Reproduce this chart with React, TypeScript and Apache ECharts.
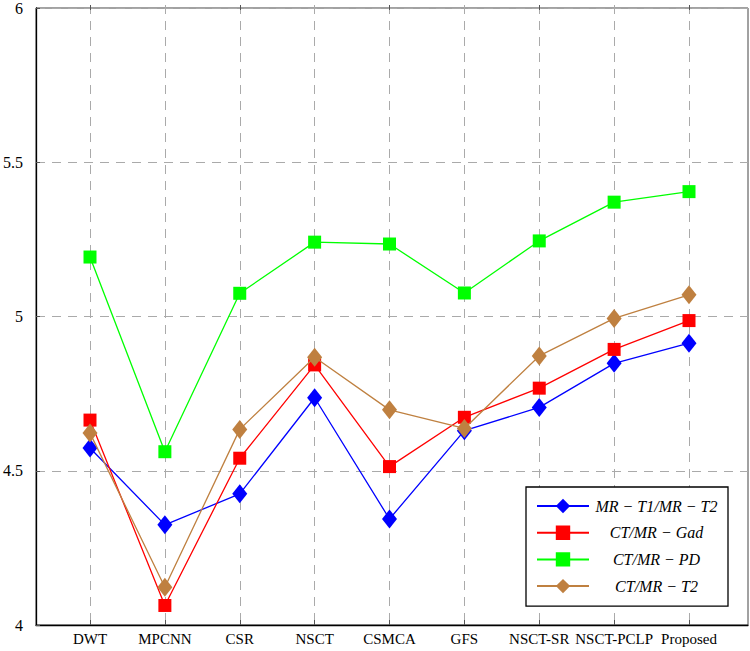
import React, { useEffect, useRef } from "react";
import * as echarts from "echarts";

const categories = ["DWT", "MPCNN", "CSR", "NSCT", "CSMCA", "GFS", "NSCT-SR", "NSCT-PCLP", "Proposed"];
const seriesNames = ["MR − T1/MR − T2", "CT/MR − Gad", "CT/MR − PD", "CT/MR − T2"];
const mrT1T2 = [4.571, 4.323, 4.423, 4.733, 4.342, 4.627, 4.702, 4.844, 4.909];
const ctGad = [4.661, 4.063, 4.538, 4.839, 4.511, 4.67, 4.764, 4.889, 4.982];
const ctPD = [5.187, 4.559, 5.07, 5.235, 5.229, 5.071, 5.239, 5.364, 5.398];
const ctT2 = [4.619, 4.122, 4.631, 4.864, 4.694, 4.634, 4.868, 4.989, 5.065];
const yMin = 4;
const yMax = 6;
const yStep = 0.5;

const FONT = "'Liberation Serif', 'DejaVu Serif', serif";

export default function App() {
  const ref = useRef<HTMLDivElement>(null);
  useEffect(() => {
    if (!ref.current) return;
    const chart = echarts.init(ref.current, null, { renderer: "svg" });
    const colors = ["#0000ff", "#ff0000", "#00ff00", "#bf8040"];
    const symbols = ["diamond", "rect", "rect", "diamond"];
    const sizes: any[] = [[15, 19], [13, 13], [13, 13], [15, 19]];
    const datas = [mrT1T2, ctGad, ctPD, ctT2];
    const gridLine = { show: true, lineStyle: { color: "#aaaaaa", width: 1, type: [9, 7] } };
    chart.setOption({
      animation: false,
      backgroundColor: "#ffffff",
      grid: [
        { left: 31, right: 2, top: 5, bottom: 26, show: true, borderColor: "#444", borderWidth: 1, backgroundColor: "transparent" },
        { left: 90, right: 61, top: 5, bottom: 26 },
      ],
      xAxis: [
        {
          gridIndex: 0, type: "value", min: 0, max: 1,
          axisLine: { show: true, onZero: false, lineStyle: { color: "#000", width: 1.3 } },
          axisTick: { show: false }, axisLabel: { show: false }, splitLine: { show: false },
        },
        {
          gridIndex: 1, type: "category", data: categories, boundaryGap: false, position: "bottom",
          axisLine: { show: false },
          axisTick: { show: true, inside: true, length: 5, lineStyle: { color: "#555" } },
          axisLabel: { color: "#000", fontFamily: FONT, fontSize: 15, margin: 6, interval: 0 },
          splitLine: gridLine,
        },
        {
          gridIndex: 1, type: "category", data: categories, boundaryGap: false, position: "top",
          axisLine: { show: false },
          axisTick: { show: true, inside: true, length: 5, lineStyle: { color: "#555" } },
          axisLabel: { show: false }, splitLine: { show: false },
        },
      ],
      yAxis: [
        {
          gridIndex: 0, type: "value", min: yMin, max: yMax, interval: yStep,
          axisLine: { show: true, lineStyle: { color: "#000", width: 1.3 } },
          axisTick: { show: true, inside: true, length: 4, lineStyle: { color: "#555" } },
          axisLabel: { color: "#000", fontFamily: FONT, fontSize: 16, margin: 13 },
          splitLine: gridLine,
        },
        {
          gridIndex: 1, type: "value", min: yMin, max: yMax, interval: yStep, show: false,
          splitLine: { show: false },
        },
      ],
      legend: {
        orient: "vertical",
        left: 526,
        top: 487,
        padding: [11, 9, 12, 10],
        itemGap: 10.7,
        itemWidth: 52,
        itemHeight: 18,
        borderColor: "#000",
        borderWidth: 1.3,
        backgroundColor: "#fff",
        data: seriesNames,
        formatter: (name: string) => "{t|" + name + "}",
        textStyle: {
          rich: {
            t: { width: 125, align: "center", fontFamily: FONT, fontStyle: "italic", fontSize: 16, lineHeight: 16, color: "#000" },
          },
        },
      },
      series: datas.map((d, i) => ({
        name: seriesNames[i],
        type: "line",
        xAxisIndex: 1,
        yAxisIndex: 1,
        data: d,
        symbol: symbols[i],
        symbolSize: sizes[i],
        showAllSymbol: true,
        lineStyle: { color: colors[i], width: 1.3 },
        itemStyle: { color: colors[i], borderWidth: 0 },
        z: 2 + i,
      })),
    });
    return () => chart.dispose();
  }, []);
  return <div ref={ref} style={{ width: 750, height: 651, position: "absolute", left: 0, top: 0 }} />;
}
